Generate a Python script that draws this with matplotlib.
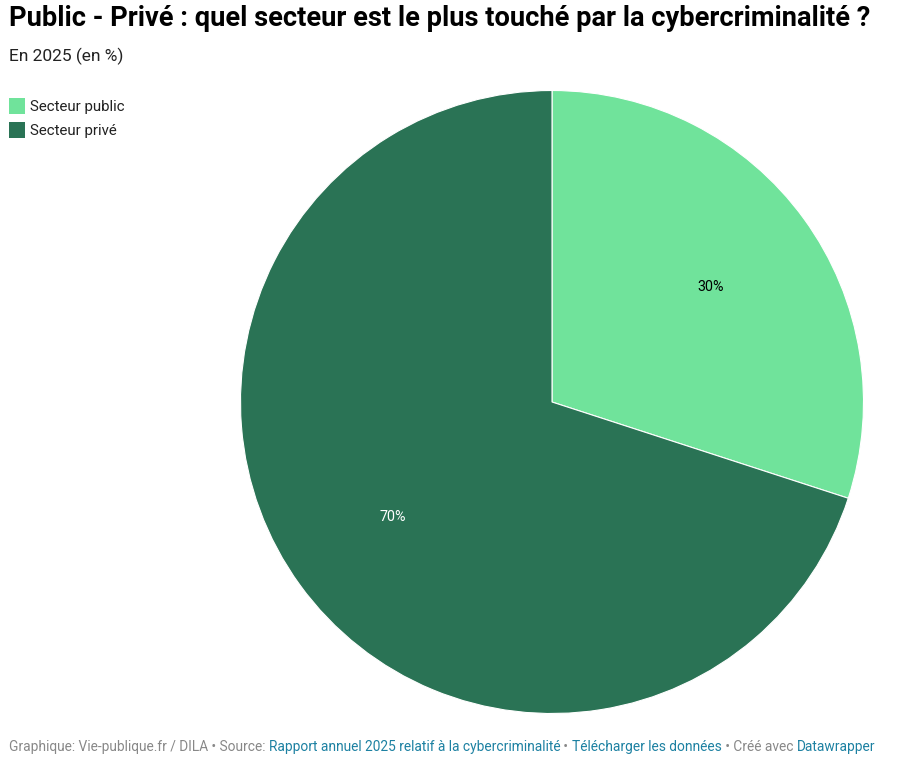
import matplotlib
matplotlib.use("Agg")
import matplotlib.pyplot as plt
from matplotlib.patches import Rectangle

categories = ["Secteur public", "Secteur privé"]
values = [30, 70]
colors = ["#70e39b", "#2a7355"]
label_colors = ["#000000", "#ffffff"]

title = "Public - Privé : quel secteur est le plus touché par la cybercriminalité ?"
subtitle = "En 2025 (en %)"
footer = [
    ("Graphique: Vie-publique.fr / DILA • Source: ", "#888888"),
    ("Rapport annuel 2025 relatif à la cybercriminalité", "#1d81a2"),
    (" • ", "#888888"),
    ("Télécharger les données", "#1d81a2"),
    (" • Créé avec ", "#888888"),
    ("Datawrapper", "#1d81a2"),
]

W, H = 908, 765
fig = plt.figure(figsize=(W / 100, H / 100), dpi=100)
fig.patch.set_facecolor("white")
FONT = "Roboto"

# Pie axes
cx, cy, r = 552, 402, 311.5
ax = fig.add_axes([(cx - r) / W, (H - cy - r) / H, 2 * r / W, 2 * r / H])
wedges, texts, autotexts = ax.pie(
    values, colors=colors, startangle=90, counterclock=False,
    autopct=lambda p: f"{p:.0f}%", pctdistance=0.63, radius=1,
    wedgeprops=dict(edgecolor="white", linewidth=0.8),
    textprops=dict(fontfamily=FONT, fontsize=10.3),
)
for t, c in zip(autotexts, label_colors):
    t.set_color(c)
ax.set_xlim(-1.0, 1.0)
ax.set_ylim(-1.0, 1.0)
ax.set_aspect("equal")
ax.axis("off")

# Title and subtitle
fig.text(9 / W, 1 - 19 / H, title, fontfamily=FONT, fontweight="bold",
         fontsize=19.6, va="center", ha="left", color="#000000")
fig.text(9 / W, 1 - 56 / H, subtitle, fontfamily=FONT, fontsize=12.5,
         va="center", ha="left", color="#222222")

# Legend
for i, (cat, col) in enumerate(zip(categories, colors)):
    y = 98 + i * 24
    fig.patches.append(Rectangle((9 / W, 1 - (y + 16) / H), 16 / W, 16 / H,
                                 transform=fig.transFigure, facecolor=col,
                                 edgecolor="none"))
    fig.text(30 / W, 1 - (y + 8.5) / H, cat, fontfamily=FONT, fontsize=10.8,
             va="center", ha="left", color="#222222")

# Footer: pieces placed on one baseline
fig.canvas.draw()
renderer = fig.canvas.get_renderer()
x = 9.0
for txt, col in footer:
    t = fig.text(x / W, 1 - 751 / H, txt, fontfamily=FONT, fontsize=9.9,
                 va="baseline", ha="left", color=col)
    bb = t.get_window_extent(renderer)
    x += bb.width

fig.savefig("out.png", dpi=100, facecolor="white")
